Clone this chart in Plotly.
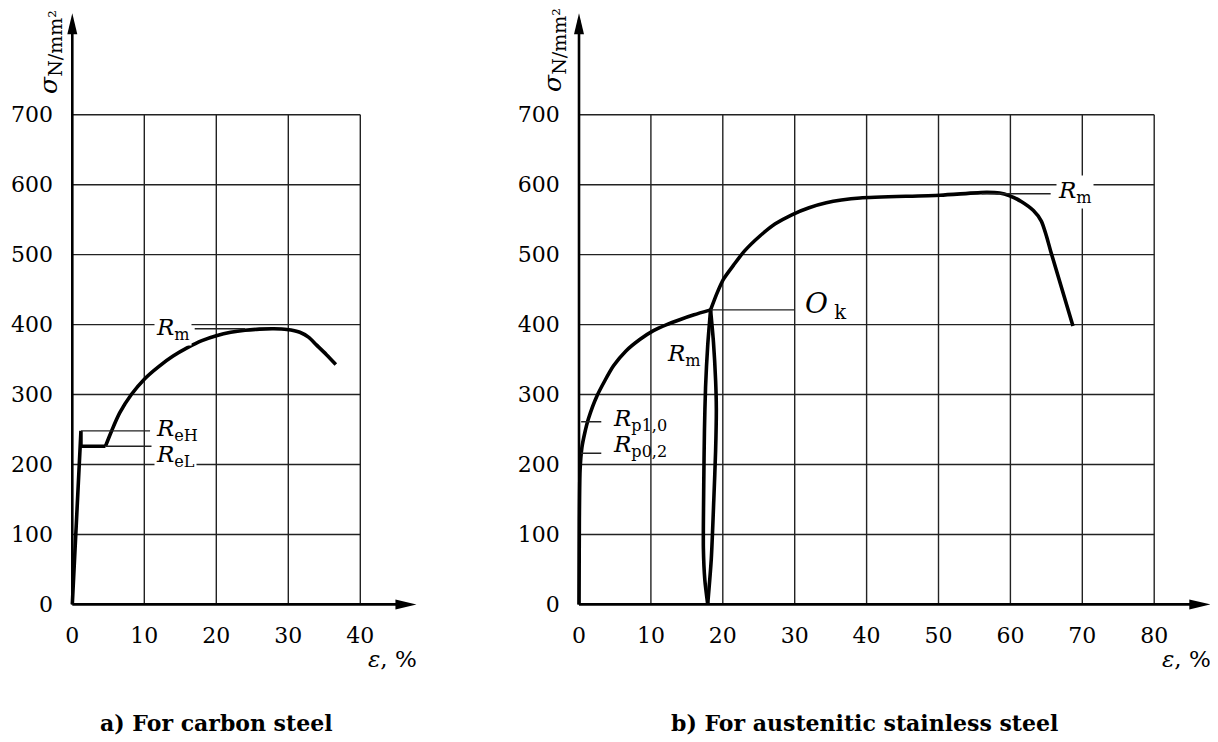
import plotly.graph_objects as go

# ---- data ----
stress_ticks = [0, 100, 200, 300, 400, 500, 600, 700]
carbon_strain_ticks = [0, 10, 20, 30, 40]
austenitic_strain_ticks = [0, 10, 20, 30, 40, 50, 60, 70, 80]

# a) carbon steel: elastic line, upper/lower yield and the hardening curve
carbon_yield_strain = [0, 1.2, 1.2, 4.6]
carbon_yield_stress = [0, 248, 226, 226]
carbon_strain = [4.6, 5.5, 6.6, 8.2, 10.0, 12.0, 14.0, 16.0, 18.0, 20.0, 22.0,
                 24.0, 26.0, 28.0, 29.8, 31.6, 32.8, 33.9, 35.3, 36.6]
carbon_stress = [226, 249, 274, 300, 322, 340, 355, 367, 377, 384, 389,
                 392, 393.5, 394, 393, 389, 382, 371, 357, 343]

# b) austenitic stainless steel: first loading, unloading/reloading, final curve
aus_load_strain = [0, 0.05, 0.15, 0.4, 0.8, 1.3, 2.5, 4.8, 6.5, 8.5, 10.3,
                   12.2, 14.0, 16.0, 18.3]
aus_load_stress = [0, 120, 192, 224, 245, 265, 298, 341, 362, 379, 391,
                   400, 407, 414, 421]
aus_unload_strain = [18.3, 17.9, 17.6, 17.45, 17.35, 17.3, 17.5, 17.9]
aus_unload_stress = [421, 370, 310, 250, 170, 80, 35, 0]
aus_reload_strain = [17.9, 18.4, 18.75, 19.0, 19.1, 19.0, 18.7, 18.3]
aus_reload_stress = [0, 65, 150, 220, 280, 320, 375, 421]
aus_strain = [18.3, 19.2, 20.1, 21.5, 23.0, 25.2, 27.3, 29.6, 32.0, 34.4, 36.5,
              39.1, 50.2, 56.7, 58.5, 59.9, 61.5, 63.2, 64.3, 65.0, 65.6, 68.7]
aus_stress = [421, 445, 465, 485, 505, 527, 544, 557, 567, 574, 578,
              581, 585, 589, 588, 584, 576, 563, 548, 527, 505, 398]

# characteristic values (strain where the leader starts, stress)
carbon_ReH = (1.2, 248)
carbon_ReL = (4.6, 226)
carbon_Rm = (24.0, 394)
aus_Rp10 = (0.3, 261)
aus_Rp02 = (0.3, 216)
aus_sigma_k = (18.3, 421)
aus_Rm = (56.0, 587)

# ---- page geometry (pixels, measured on the page; body has an 8px margin) ----
W, H = 1218, 742
OFF = 8
Y0_PX, Y_SCALE = 606, 0.7014
Y_LO, Y_HI, Y_TIP = -15, 852, 845


def px_x(px):
    return (px - OFF) / W


def px_y(py):
    return 1 - (py - OFF) / H


def x_domain(origin, scale, lo, hi):
    return [px_x(origin + lo * scale), px_x(origin + hi * scale)]


def y_domain():
    return [px_y(Y0_PX - Y_LO * Y_SCALE), px_y(Y0_PX - Y_HI * Y_SCALE)]


panels = [
    dict(xa="x", ya="y", origin=72.3, scale=7.2, xticks=carbon_strain_ticks, tip=47.8),
    dict(xa="x2", ya="y2", origin=579, scale=7.19, xticks=austenitic_strain_ticks, tip=87.8),
]

curve = dict(color="black", width=3.6)
fig = go.Figure()
fig.add_trace(go.Scatter(x=carbon_yield_strain, y=carbon_yield_stress, mode="lines",
                         line=curve, xaxis="x", yaxis="y"))
fig.add_trace(go.Scatter(x=carbon_strain, y=carbon_stress, mode="lines",
                         line=dict(curve, shape="spline", smoothing=0.8), xaxis="x", yaxis="y"))
for sx, sy in [(aus_load_strain, aus_load_stress), (aus_unload_strain, aus_unload_stress),
               (aus_reload_strain, aus_reload_stress), (aus_strain, aus_stress)]:
    fig.add_trace(go.Scatter(x=sx, y=sy, mode="lines",
                             line=dict(curve, shape="spline", smoothing=0.7),
                             xaxis="x2", yaxis="y2"))

shapes = []
grid = dict(color="#222", width=1.4)
for p in panels:
    xmax = p["xticks"][-1]
    ymax = stress_ticks[-1]
    for t in p["xticks"][1:]:
        shapes.append(dict(type="line", xref=p["xa"], yref=p["ya"], x0=t, x1=t,
                           y0=0, y1=ymax, line=grid, layer="below"))
    for t in stress_ticks[1:]:
        shapes.append(dict(type="line", xref=p["xa"], yref=p["ya"], x0=0, x1=xmax,
                           y0=t, y1=t, line=grid, layer="below"))
    # axes with arrow heads
    axis = dict(color="black", width=2.6)
    shapes.append(dict(type="line", xref=p["xa"], yref=p["ya"], x0=0, x1=p["tip"] - 1,
                       y0=0, y1=0, line=axis))
    shapes.append(dict(type="line", xref=p["xa"], yref=p["ya"], x0=0, x1=0,
                       y0=0, y1=Y_TIP - 10, line=axis))
    shapes.append(dict(type="path", xref=p["xa"], yref=p["ya"], xsizemode="pixel",
                       ysizemode="pixel", xanchor=p["tip"], yanchor=0,
                       path="M0,0 L-21,5 L-21,-5 Z", fillcolor="black", line_width=0))
    shapes.append(dict(type="path", xref=p["xa"], yref=p["ya"], xsizemode="pixel",
                       ysizemode="pixel", xanchor=0, yanchor=Y_TIP,
                       path="M0,0 L-5,-21 L5,-21 Z", fillcolor="black", line_width=0))

# leader lines
leader = dict(color="#222", width=1.4)
for xa, ya, (sx, sy), x_end in [
    ("x", "y", carbon_ReH, 10.8), ("x", "y", carbon_ReL, 11.0), ("x", "y", carbon_Rm, 17.0),
    ("x2", "y2", aus_Rp10, 3.1), ("x2", "y2", aus_Rp02, 3.1),
    ("x2", "y2", aus_sigma_k, 30.0), ("x2", "y2", aus_Rm, 65.6),
]:
    shapes.append(dict(type="line", xref=xa, yref=ya, x0=sx, x1=x_end, y0=sy, y1=sy,
                       line=leader))

serif = "DejaVu Serif"
annotations = []
clear = "rgba(0,0,0,0)"


def label(text, x, y, xa, ya, bg="white", size=23):
    annotations.append(dict(text=text, x=x, y=y, xref=xa, yref=ya, xanchor="left",
                            yanchor="middle", showarrow=False, bgcolor=bg, borderpad=1,
                            font=dict(family=serif, size=size, color="black")))


label("<i>R</i><sub>eL</sub>", 11.4, 212, "x", "y")
label("<i>R</i><sub>eH</sub>", 11.4, 250, "x", "y", bg=clear)
label("<i>R</i><sub>m</sub>", 11.3, 393, "x", "y")
label("<i>R</i><sub>p1,0</sub>", 4.4, 264, "x2", "y2", bg=clear)
label("<i>R</i><sub>p0,2</sub>", 4.4, 226, "x2", "y2", bg=clear)
label("<i>R</i><sub>m</sub>", 12.0, 357, "x2", "y2", bg=clear)
label("<i>O</i><sub> k</sub>", 31.2, 427, "x2", "y2", bg=clear, size=28)
label("<i>R</i><sub>m</sub>", 66.3, 590, "x2", "y2")

# axis titles and captions (pixel positions on the page)
for cx, cy in [(50, 52), (554, 50)]:
    annotations.append(dict(text='<i>σ</i><sub><span style="font-size:19px">N/mm²</span></sub>',
                            x=px_x(cx), y=px_y(cy), xref="paper", yref="paper",
                            xanchor="center", yanchor="middle", showarrow=False,
                            textangle=-90, font=dict(family=serif, size=25, color="black")))
for cx in [392, 1186]:
    annotations.append(dict(text="<i>ε</i>, %", x=px_x(cx), y=px_y(661), xref="paper",
                            yref="paper", xanchor="center", yanchor="middle",
                            showarrow=False, font=dict(family=serif, size=23, color="black")))
for cx, text in [(216, "a) For carbon steel"), (864, "b) For austenitic stainless steel")]:
    annotations.append(dict(text=f"<b>{text}</b>", x=px_x(cx), y=px_y(725), xref="paper",
                            yref="paper", xanchor="center", yanchor="middle",
                            showarrow=False, font=dict(family=serif, size=22, color="black")))

tick_font = dict(family=serif, size=22, color="black")
axis_common = dict(showgrid=False, zeroline=False, showline=False, ticks="outside",
                   tickcolor="rgba(0,0,0,0)", fixedrange=True, tickfont=tick_font)
layout_axes = {}
for i, p in enumerate(panels):
    sfx = "" if i == 0 else "2"
    layout_axes["xaxis" + sfx] = dict(axis_common, anchor="y" + sfx, ticklen=1,
                                      range=[-1.5, p["tip"] + 0.5],
                                      domain=x_domain(p["origin"], p["scale"], -1.5, p["tip"] + 0.5),
                                      tickvals=p["xticks"])
    layout_axes["yaxis" + sfx] = dict(axis_common, anchor="x" + sfx, ticklen=3,
                                      range=[Y_LO, Y_HI], domain=y_domain(),
                                      tickvals=stress_ticks)

fig.update_layout(
    width=W,
    height=H,
    margin=dict(l=0, r=0, t=0, b=0),
    paper_bgcolor="white",
    plot_bgcolor="rgba(0,0,0,0)",
    showlegend=False,
    shapes=shapes,
    annotations=annotations,
    **layout_axes,
)
fig.write_html("out.html")
